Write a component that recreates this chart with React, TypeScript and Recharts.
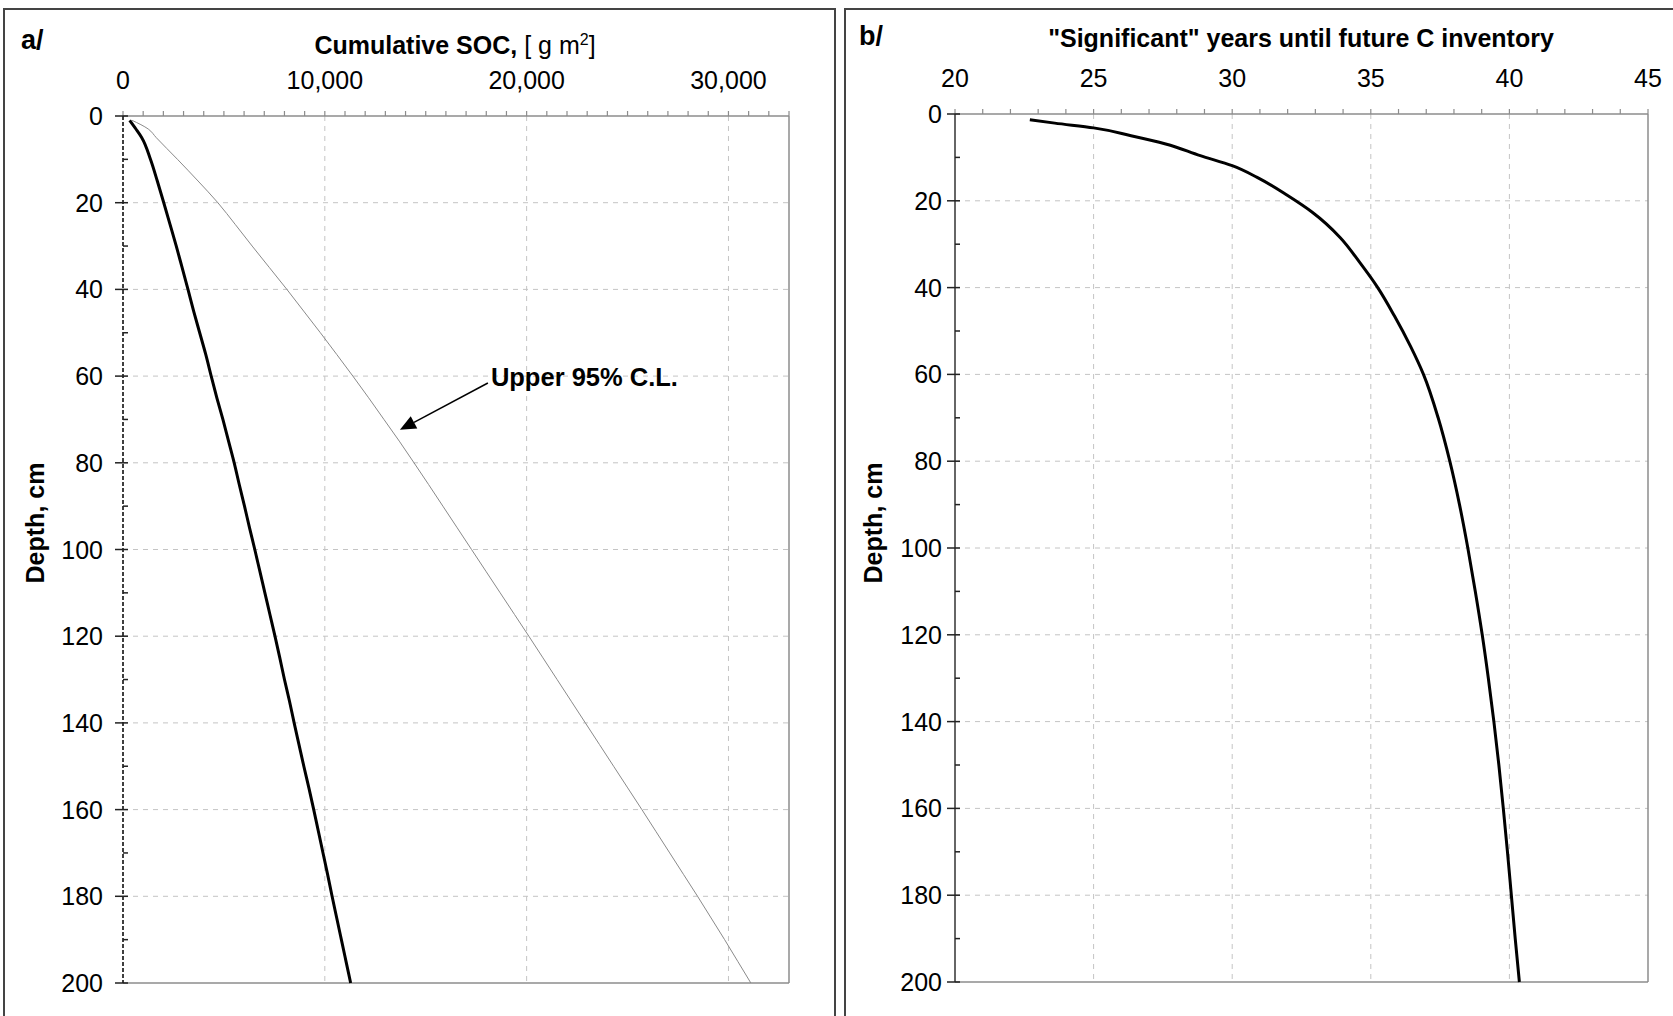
import React from "react";
import { LineChart, Line, XAxis, YAxis, ReferenceLine } from "recharts";

// panel a: cumulative SOC vs depth
const depthA = [1, 3, 5, 10, 15, 20, 25, 30, 35, 40, 45, 50, 55, 60, 65, 70, 75, 80, 85, 90, 95, 100, 105, 110, 115, 120, 125, 130, 135, 140, 145, 150, 155, 160, 165, 170, 175, 180, 185, 190, 195, 200];
const socCumulative = [330, 640, 930, 1360, 1700, 2020, 2330, 2640, 2930, 3220, 3500, 3800, 4100, 4370, 4650, 4950, 5230, 5510, 5760, 6020, 6270, 6530, 6780, 7030, 7280, 7530, 7770, 8000, 8250, 8480, 8720, 8960, 9210, 9450, 9680, 9910, 10140, 10360, 10590, 10820, 11050, 11280];
const socUpper95 = [450, 1250, 1650, 2700, 3720, 4700, 5560, 6400, 7260, 8120, 8950, 9780, 10590, 11390, 12170, 12930, 13690, 14420, 15140, 15850, 16560, 17270, 17980, 18690, 19400, 20110, 20810, 21510, 22210, 22910, 23610, 24310, 25010, 25710, 26400, 27090, 27780, 28470, 29140, 29810, 30460, 31110];

// panel b: "significant" years vs depth
const depthB = [1.3, 2.1, 3.2, 5, 6.9, 9.6, 11.9, 14.6, 18.8, 22.7, 28.5, 34.2, 40, 46.5, 53.5, 60, 70, 80, 90, 100, 110, 120, 130, 140, 150, 160, 170, 180, 190, 200];
const yearsSignificant = [22.7, 23.6, 25.0, 26.35, 27.6, 28.85, 30.0, 30.9, 32.0, 32.9, 33.9, 34.6, 35.25, 35.85, 36.43, 36.9, 37.43, 37.85, 38.2, 38.5, 38.77, 39.02, 39.24, 39.44, 39.62, 39.78, 39.93, 40.07, 40.21, 40.36];

const socLabels = [0, 10000, 20000, 30000];
const yearLabels = [20, 25, 30, 35, 40, 45];
const depthGrid = [20, 40, 60, 80, 100, 120, 140, 160, 180];
const socMinor = Array.from({ length: 34 }, (_, i) => i * 1000);
const yearMinor = Array.from({ length: 26 }, (_, i) => 20 + i);
const depthMinor = Array.from({ length: 21 }, (_, i) => i * 10);

const arrowFrom = { x: 18080, y: 61.6 };
const arrowTo = { x: 13720, y: 72.4 };

const FONT = '"Liberation Sans", Arial, sans-serif';
const GRID = "#c4c4c4";
const FRAME = "#8c8c8c";

const rowsA = depthA.map((depth, i) => ({ depth, soc: socCumulative[i], upper: socUpper95[i] }));
const rowsB = depthB.map((depth, i) => ({ depth, years: yearsSignificant[i] }));

const topTick = (labels: number[], fmt: (v: number) => string) => (props: any) => {
  const { x, y, payload } = props;
  const v = payload.value;
  return (
    <g>
      <line x1={x} x2={x} y1={y} y2={y - 5} stroke={FRAME} strokeWidth={1.2} />
      {labels.includes(v) && (
        <text x={x} y={y - 27.5} textAnchor="middle" fontSize={25} fontFamily={FONT} fill="#000">
          {fmt(v)}
        </text>
      )}
    </g>
  );
};

const leftTick = (gap: number) => (props: any) => {
  const { x, y, payload } = props;
  const v = payload.value;
  const major = v % 20 === 0;
  return (
    <g>
      <line x1={major ? x - 8 : x} x2={x + 5} y1={y} y2={y} stroke="#222" strokeWidth={1.5} />
      {major && (
        <text x={x - gap} y={y + 9} textAnchor="end" fontSize={25} fontFamily={FONT} fill="#000">
          {v}
        </text>
      )}
    </g>
  );
};

function UpperArrow(props: any) {
  const { x1, y1, x2, y2 } = props;
  const dx = x2 - x1;
  const dy = y2 - y1;
  const len = Math.hypot(dx, dy) || 1;
  const ux = dx / len;
  const uy = dy / len;
  const bx = x2 - ux * 16;
  const by = y2 - uy * 16;
  const pts = `${x2},${y2} ${bx - uy * 7},${by + ux * 7} ${bx + uy * 7},${by - ux * 7}`;
  return (
    <g>
      <line x1={x1} y1={y1} x2={bx} y2={by} stroke="#000" strokeWidth={1.5} />
      <polygon points={pts} fill="#000" />
      <text x={x1 + 3} y={y1 + 2.6} fontSize={25.5} fontWeight="bold" fontFamily={FONT} fill="#000">
        Upper 95% C.L.
      </text>
    </g>
  );
}

const abs = (left: number, top: number): React.CSSProperties => ({ position: "absolute", left, top });

export default function App() {
  return (
    <div style={{ position: "absolute", left: 0, top: 0, width: 1673, height: 1016, background: "#fff", overflow: "hidden", fontFamily: FONT }}>
      <div style={{ ...abs(3, 8), width: 833, height: 1040, border: "2px solid #444", boxSizing: "border-box" }} />
      <div style={{ ...abs(844, 8), width: 860, height: 1040, border: "2px solid #444", boxSizing: "border-box" }} />

      <div style={abs(0, 0)}>
        <LineChart layout="vertical" width={840} height={1016} data={rowsA} margin={{ top: 76, right: 51, bottom: 33, left: 63 }}>
          <XAxis
            type="number"
            orientation="top"
            domain={[0, 33000]}
            ticks={socMinor}
            interval={0}
            height={40}
            tickSize={0}
            tickMargin={0}
            tick={topTick(socLabels, (v) => v.toLocaleString("en-US"))}
            axisLine={{ stroke: FRAME, strokeWidth: 1.5 }}
          />
          <YAxis
            type="number"
            dataKey="depth"
            domain={[0, 200]}
            ticks={depthMinor}
            interval={0}
            width={60}
            tickSize={0}
            tickMargin={0}
            tick={leftTick(20)}
            axisLine={{ stroke: "#000", strokeWidth: 1.5, strokeDasharray: "4 2" }}
          />
          {socLabels.slice(1).map((v) => (
            <ReferenceLine key={"vx" + v} x={v} stroke={GRID} strokeDasharray="5 5" />
          ))}
          {depthGrid.map((v) => (
            <ReferenceLine key={"hy" + v} y={v} stroke={GRID} strokeDasharray="5 5" />
          ))}
          <ReferenceLine x={33000} stroke={FRAME} strokeWidth={1.5} />
          <ReferenceLine y={200} stroke={FRAME} strokeWidth={1.5} />
          <Line dataKey="upper" type="monotone" stroke="#8a8a8a" strokeWidth={1} dot={false} activeDot={false} isAnimationActive={false} />
          <Line dataKey="soc" type="monotone" stroke="#000" strokeWidth={3} dot={false} activeDot={false} isAnimationActive={false} />
          <ReferenceLine segment={[arrowFrom, arrowTo]} ifOverflow="visible" shape={UpperArrow} />
        </LineChart>
      </div>

      <div style={abs(840, 0)}>
        <LineChart layout="vertical" width={833} height={1016} data={rowsB} margin={{ top: 74, right: 25, bottom: 34, left: 55 }}>
          <XAxis
            type="number"
            orientation="top"
            domain={[20, 45]}
            ticks={yearMinor}
            interval={0}
            height={40}
            tickSize={0}
            tickMargin={0}
            tick={topTick(yearLabels, (v) => String(v))}
            axisLine={{ stroke: FRAME, strokeWidth: 1.5 }}
          />
          <YAxis
            type="number"
            dataKey="depth"
            domain={[0, 200]}
            ticks={depthMinor}
            interval={0}
            width={60}
            tickSize={0}
            tickMargin={0}
            tick={leftTick(13)}
            axisLine={{ stroke: "#333", strokeWidth: 1.5 }}
          />
          {yearLabels.slice(1, 5).map((v) => (
            <ReferenceLine key={"vx" + v} x={v} stroke={GRID} strokeDasharray="5 5" />
          ))}
          {depthGrid.map((v) => (
            <ReferenceLine key={"hy" + v} y={v} stroke={GRID} strokeDasharray="5 5" />
          ))}
          <ReferenceLine x={45} stroke={FRAME} strokeWidth={1.5} />
          <ReferenceLine y={200} stroke={FRAME} strokeWidth={1.5} />
          <Line dataKey="years" type="monotone" stroke="#000" strokeWidth={3} dot={false} activeDot={false} isAnimationActive={false} />
        </LineChart>
      </div>

      <div style={{ ...abs(21, 24), fontSize: 27, fontWeight: "bold", lineHeight: "32px" }}>a/</div>
      <div style={{ ...abs(859, 20), fontSize: 27, fontWeight: "bold", lineHeight: "32px" }}>b/</div>

      <div style={{ ...abs(155, 31), width: 600, textAlign: "center", fontSize: 25, lineHeight: "28px" }}>
        <b>Cumulative SOC,</b> [ g m<sup style={{ fontSize: 16, lineHeight: 0 }}>2</sup>]
      </div>
      <div style={{ ...abs(1001, 24), width: 600, textAlign: "center", fontSize: 25, fontWeight: "bold", lineHeight: "28px" }}>
        "Significant" years until future C inventory
      </div>

      <div style={{ ...abs(35 - 100, 523 - 14), width: 200, height: 28, textAlign: "center", fontSize: 25, fontWeight: "bold", lineHeight: "28px", transform: "rotate(-90deg)" }}>
        Depth, cm
      </div>
      <div style={{ ...abs(873 - 100, 523 - 14), width: 200, height: 28, textAlign: "center", fontSize: 25, fontWeight: "bold", lineHeight: "28px", transform: "rotate(-90deg)" }}>
        Depth, cm
      </div>
    </div>
  );
}
